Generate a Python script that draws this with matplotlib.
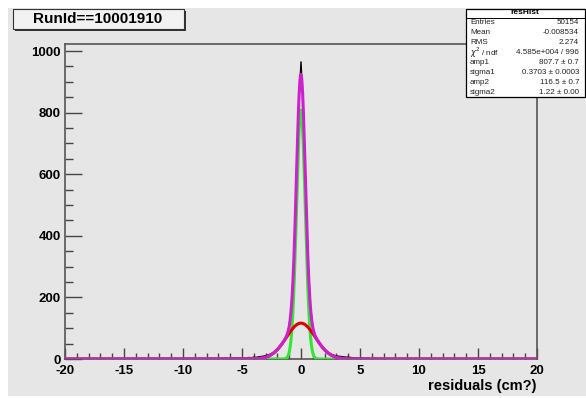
"""
resHist: residual distribution with double-gaussian fit
"""

import numpy as np
import matplotlib.pyplot as plt
from matplotlib.patches import Rectangle
from matplotlib.ticker import MultipleLocator

plt.rcParams['font.family'] = ['Liberation Sans', 'DejaVu Sans']
plt.rcParams['axes.unicode_minus'] = False

# histogram counts at bin centres -8.0 ... 8.0 (step 0.2)
bin_start, bin_w = -8.0, 0.2
counts = [1, 0, 2, 1, 0, 2, 1, 3, 1, 2, 2, 3, 2, 4, 3,          # -8.0 .. -5.2
          3, 4, 3, 5, 4, 6, 5, 7, 8, 9, 11, 13, 16, 20, 25, 31, 40, 50, 62, 78,
          106, 175, 325, 566, 820, 965, 812, 555, 318, 170, 103, 77, 60, 49, 39,
          31, 24, 19, 15, 12, 10, 9, 8, 7, 6, 6, 5, 4, 4, 3, 3,
          4, 2, 3, 2, 1, 3, 2, 1, 2, 0, 1, 2, 0, 1, 1]          # 5.2 .. 8.0

# fit parameters (from the stats box)
fit_mean = -0.008534
amp1, sigma1 = 807.7, 0.3703
amp2, sigma2 = 116.5, 1.22

stats_rows = [
    ('Entries', '50154'),
    ('Mean', '-0.008534'),
    ('RMS', '2.274'),
    (r'$\chi^2$ / ndf', '4.585e+004 / 996'),
    ('amp1', '807.7 ± 0.7'),
    ('sigma1', '0.3703 ± 0.0003'),
    ('amp2', '116.5 ± 0.7'),
    ('sigma2', '1.22 ± 0.00'),
]

W, H = 586, 398
BG = '#e6e6e6'

fig = plt.figure(figsize=(W / 100, H / 100), dpi=100)
fig.patch.set_facecolor('white')


def fx(px):
    return px / W


def fy(py):
    return 1 - py / H


# canvas
fig.patches.append(Rectangle((fx(8), fy(396)), fx(W - 8), (396 - 8) / H,
                             transform=fig.transFigure, facecolor=BG,
                             edgecolor='none', zorder=-5))

ax = fig.add_axes([fx(65), fy(359), (537 - 65) / W, (359 - 44) / H])
ax.set_zorder(1)
ax.set_facecolor(BG)

centres = bin_start + bin_w * np.arange(len(counts))
ax.plot(centres, counts, color='black', lw=1.0, zorder=2)

x = np.linspace(-20, 20, 4001)
g1 = amp1 * np.exp(-0.5 * ((x - fit_mean) / sigma1) ** 2)
g2 = amp2 * np.exp(-0.5 * ((x - fit_mean) / sigma2) ** 2)
ax.plot(x, g1, color='#33e633', lw=2.2, zorder=3)
ax.plot(x, g2, color='#e00000', lw=2.2, zorder=4)
ax.plot(x, g1 + g2, color='#cc22cc', lw=2.2, zorder=5)

ax.set_xlim(-20, 20)
ax.set_ylim(0, 1023)
ax.xaxis.set_major_locator(MultipleLocator(5))
ax.xaxis.set_minor_locator(MultipleLocator(1))
ax.yaxis.set_major_locator(MultipleLocator(200))
ax.yaxis.set_minor_locator(MultipleLocator(50))
ax.tick_params(axis='both', which='both', direction='in', top=False, right=False,
               colors='#444444', labelcolor='black', width=1.0)
ax.tick_params(axis='x', which='major', length=8, pad=4)
ax.tick_params(axis='x', which='minor', length=4)
ax.tick_params(axis='y', which='major', length=12, pad=3)
ax.tick_params(axis='y', which='minor', length=6)
for lab in ax.get_xticklabels() + ax.get_yticklabels():
    lab.set_fontsize(9.5)
    lab.set_fontweight('bold')
for sp in ax.spines.values():
    sp.set_color('#555555')
    sp.set_linewidth(1.2)

ax.set_xlabel('residuals (cm?)', fontsize=10.5, fontweight='bold', loc='right',
              labelpad=2)

# run id label box with shadow
fig.patches.append(Rectangle((fx(15), fy(31)), (184 - 13) / W, (29 - 9) / H,
                             transform=fig.transFigure, facecolor='#333333',
                             edgecolor='none', zorder=5))
fig.patches.append(Rectangle((fx(13), fy(29)), (184 - 13) / W, (29 - 9) / H,
                             transform=fig.transFigure, facecolor='#f2f2f2',
                             edgecolor='#333333', lw=0.8, zorder=6))
fig.text(fx(98), fy(19), 'RunId==10001910', ha='center', va='center',
         fontsize=11, fontweight='bold', zorder=7)

# stats box
fig.patches.append(Rectangle((fx(466), fy(97)), (585 - 466) / W, (97 - 9) / H,
                             transform=fig.transFigure, facecolor='white',
                             edgecolor='black', lw=0.9, zorder=5))
fig.add_artist(plt.Line2D([fx(466), fx(585)], [fy(17.5), fy(17.5)],
                          transform=fig.transFigure, color='black', lw=0.7,
                          zorder=6))
fig.text(fx(525), fy(13), 'resHist', ha='center', va='center', fontsize=6,
         fontweight='bold', zorder=7)
for i, (name, val) in enumerate(stats_rows):
    yy = fy(22.5 + i * 10)
    fig.text(fx(470), yy, name, ha='left', va='center', fontsize=5.8,
             color='#222222', zorder=7)
    fig.text(fx(579), yy, val, ha='right', va='center', fontsize=5.8,
             color='#222222', zorder=7)

fig.savefig('out.png', dpi=100, facecolor=fig.get_facecolor())
